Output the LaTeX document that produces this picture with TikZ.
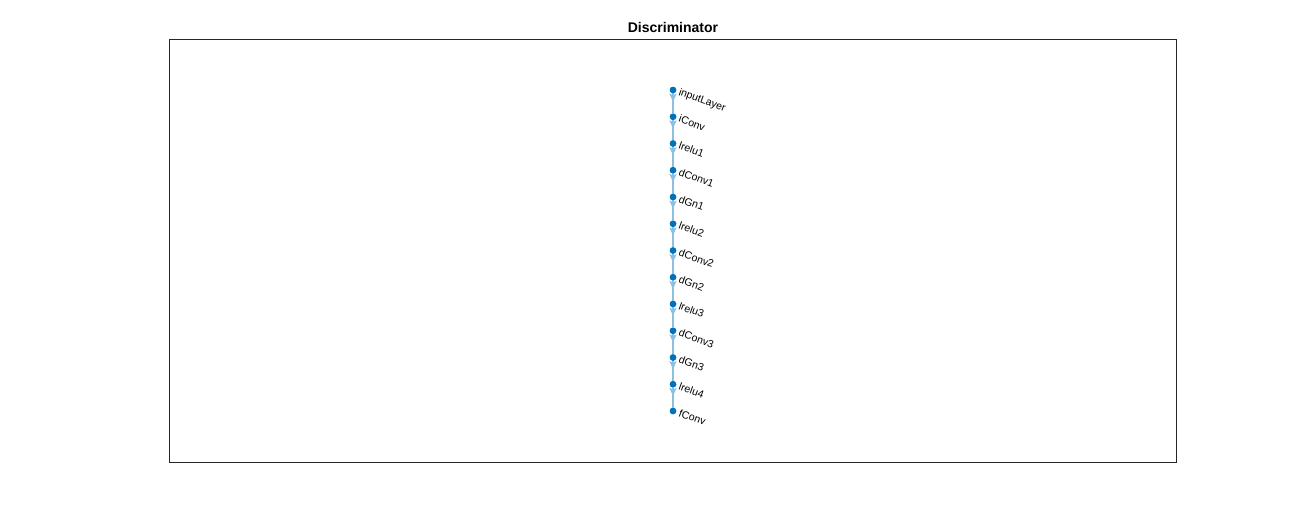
\documentclass[tikz,border=0pt]{standalone}
\usepackage{fontspec}
\setmainfont{Liberation Sans}
\usetikzlibrary{arrows.meta,decorations.markings}

\definecolor{matblue}{rgb}{0,0.447,0.741}
\colorlet{edgeblue}{matblue!45}

\begin{document}
\begin{tikzpicture}[x=1pt,y=-1pt,
    layer/.style={circle,fill=matblue,inner sep=0pt,minimum size=6.5pt},
    lbl/.style={font=\fontsize{10.5}{10.5}\selectfont,anchor=base west,rotate=-20,inner sep=0pt},
    edge/.style={draw=edgeblue,line width=1.8pt,postaction=decorate,
      decoration={markings,mark=at position 0.42 with {\arrow[edgeblue]{Stealth[width=7pt,length=8pt,inset=1.5pt]}}}}]
       
       \useasboundingbox (0,0) rectangle (1300,520);
       
       %axes
       \draw[black!85,line width=0.6pt] (169,39) rectangle (1176,462);
       \node (title) at (673,27) {\fontsize{14}{14}\selectfont\bfseries Discriminator};
       
       %layers
       \foreach \name [count=\i from 0] in {inputLayer,iConv,lrelu1,dConv1,dGn1,lrelu2,dConv2,dGn2,lrelu3,dConv3,dGn3,lrelu4,fConv}  {
       	\node[layer] (\name) at (673,{90+26.75*\i}) {};
       	\node[lbl] (\name-lbl) at ([shift={(5,5)}]\name.center) {\name};
       }
       
       %connections
       \foreach \a/\b in {inputLayer/iConv,iConv/lrelu1,lrelu1/dConv1,dConv1/dGn1,dGn1/lrelu2,lrelu2/dConv2,dConv2/dGn2,dGn2/lrelu3,lrelu3/dConv3,dConv3/dGn3,dGn3/lrelu4,lrelu4/fConv}  {
       	\draw[edge] (\a) -- (\b);
       }
       
       %dots on top
       \foreach \name in {inputLayer,iConv,lrelu1,dConv1,dGn1,lrelu2,dConv2,dGn2,lrelu3,dConv3,dGn3,lrelu4,fConv}  {
       	\fill[matblue] (\name) circle (3.25pt);
       }
       
       \end{tikzpicture}
\end{document}
